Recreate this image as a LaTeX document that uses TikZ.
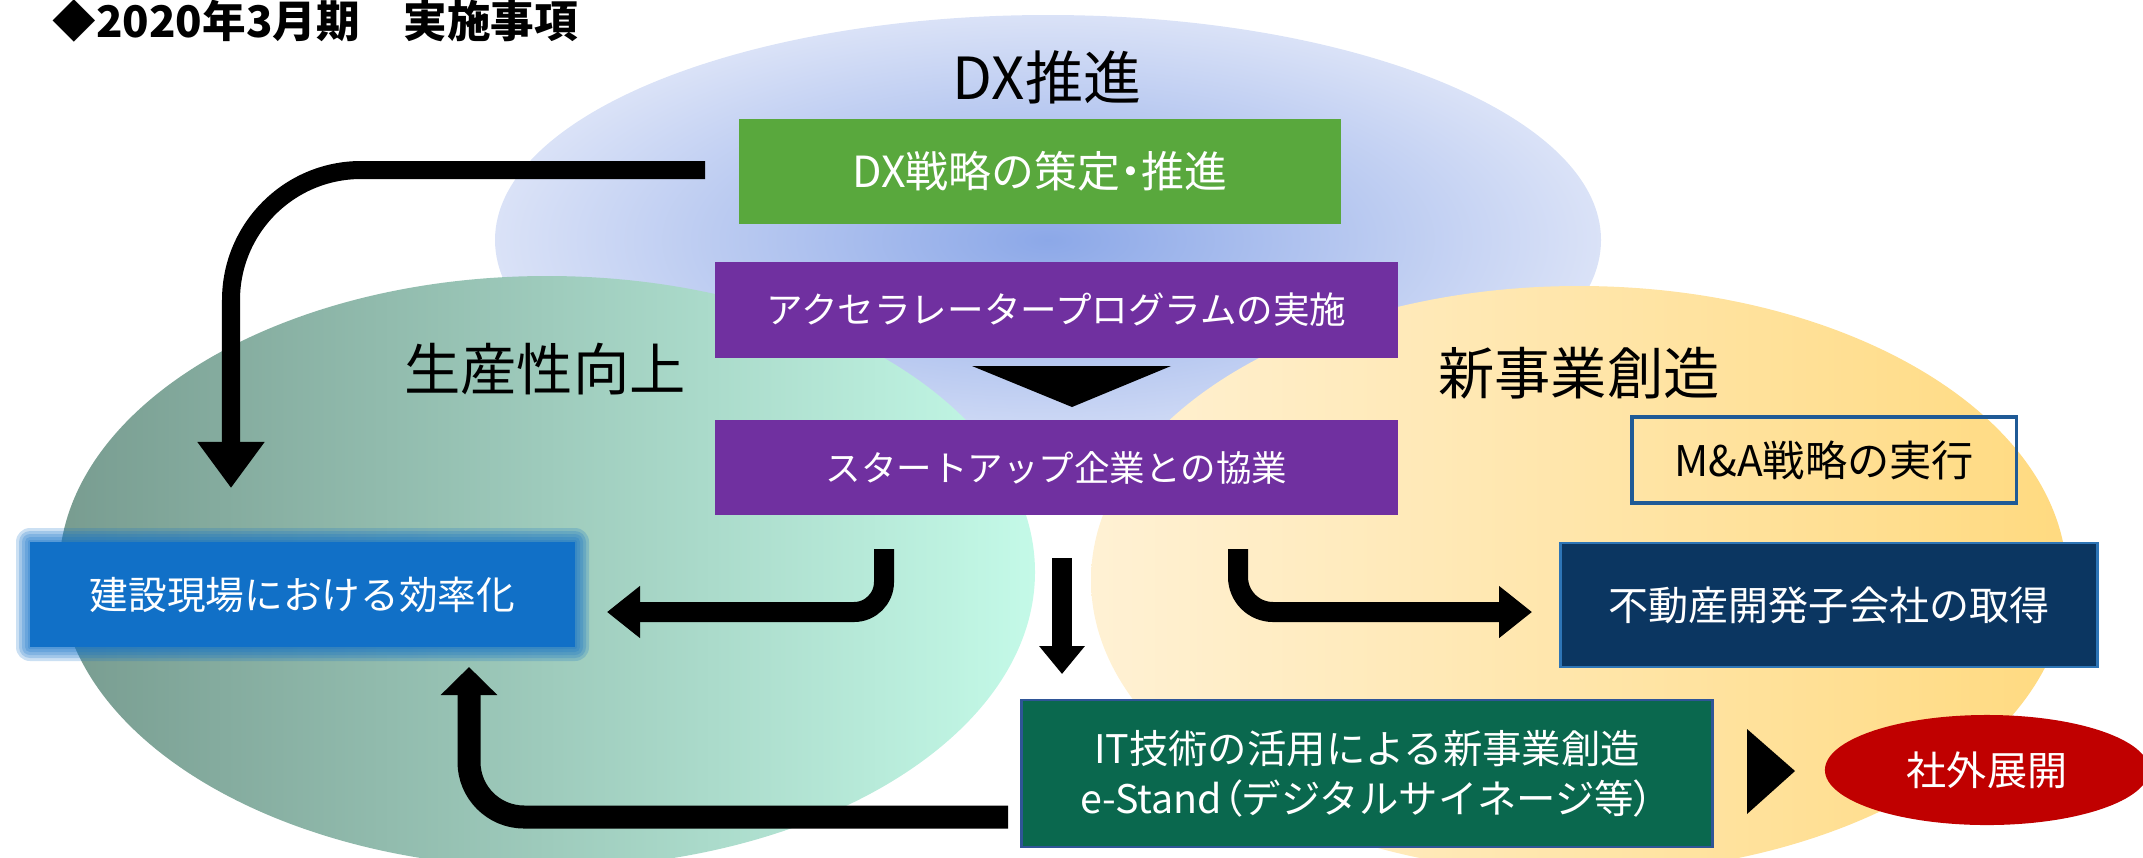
\documentclass[tikz,border=0pt]{standalone}
\usepackage{fontspec}
\setmainfont{Noto Sans CJK JP}
\newfontfamily\jpp[RawFeature=+palt]{Noto Sans CJK JP}
\usetikzlibrary{arrows.meta,calc,shapes.geometric}
\definecolor{blueIn}{RGB}{140,168,232}
\definecolor{blueOut}{RGB}{218,226,247}
\definecolor{grnL}{RGB}{120,156,144}
\definecolor{grnR}{RGB}{196,250,232}
\definecolor{yelL}{RGB}{255,241,212}
\definecolor{yelR}{RGB}{255,218,128}
\definecolor{dxgreen}{RGB}{89,168,61}
\definecolor{purp}{RGB}{112,48,160}
\definecolor{kblue}{RGB}{17,112,199}
\definecolor{navy}{RGB}{11,54,97}
\definecolor{navyedge}{RGB}{46,117,182}
\definecolor{itgreen}{RGB}{10,104,78}
\definecolor{itedge}{RGB}{47,85,151}
\definecolor{maedge}{RGB}{31,90,150}
\definecolor{redc}{RGB}{192,0,0}
\tikzset{
  box/.style={rectangle, inner sep=0pt, text=white, align=center},
  hdr/.style={inner sep=0pt, text=black, font=\fontsize{16}{19}\selectfont},
  arr/.style={draw=black, line width=0.2cm, -{Triangle[width=0.5cm,length=0.33cm]}},
  blurl/.style={fill=kblue, opacity=0.22}
}
\begin{document}
\begin{tikzpicture}[x=0.01cm,y=-0.01cm]
\useasboundingbox (0,0) rectangle (2143,857);
% background ellipses
\shade[inner color=blueIn, outer color=blueOut] (1048,240) ellipse [x radius=553, y radius=225];
\shade[left color=grnL, right color=grnR] (547,572) ellipse [x radius=488, y radius=296];
\shade[left color=yelL, right color=yelR] (1579,580) ellipse [x radius=488, y radius=294];

% title
\node[anchor=base west, inner sep=0pt, font=\bfseries\fontsize{12.4}{14}\selectfont] (title) at (52,37) {◆2020年3月期　実施事項};

% headings
\node[hdr, font=\fontsize{16.5}{19}\selectfont] (dxh) at (1047,77) {DX推進};
\node[hdr] (seisan) at (545,369) {生産性向上};
\node[hdr] (shinki) at (1579,373) {新事業創造};

% boxes
\node[box, fill=dxgreen, minimum width=6.02cm, minimum height=1.05cm, font=\fontsize{12.2}{14}\selectfont] (dx) at (1040,171.5) {DX戦略の策定{\jpp ・}推進};
\node[box, fill=purp, minimum width=6.83cm, minimum height=0.96cm, font=\fontsize{10.4}{12}\selectfont] (acc) at (1056.5,310) {アクセラレータープログラムの実施};
\node[box, fill=purp, minimum width=6.83cm, minimum height=0.95cm, font=\fontsize{10.1}{12}\selectfont] (su) at (1056.5,467.5) {スタートアップ企業との協業};
\fill (972,366) -- (1171,366) -- (1072,407) -- cycle;

% blurred blue box
\foreach \k in {14,11,8,5,2} {
  \fill[blurl, rounded corners=\k*0.01cm] (30-\k,542-\k) rectangle (575+\k,647+\k);
}
\node[box, fill=kblue, minimum width=5.45cm, minimum height=1.05cm, font=\fontsize{11}{13}\selectfont] (ken) at (302.5,594.5) {建設現場における効率化};

\node[box, draw=maedge, line width=0.9pt, text=black, minimum width=3.84cm, minimum height=0.86cm, font=\fontsize{12}{14}\selectfont] (ma) at (1824,460) {M\&A戦略の実行};
\node[box, fill=navy, draw=navyedge, line width=0.8pt, minimum width=5.36cm, minimum height=1.24cm, font=\fontsize{11.4}{13}\selectfont] (fudo) at (1829,605) {不動産開発子会社の取得};
\node[box, fill=itgreen, draw=itedge, line width=0.8pt, minimum width=6.9cm, minimum height=1.47cm, font=\fontsize{11.2}{14.2}\selectfont] (it) at (1367,773.5) {IT技術の活用による新事業創造\\e-Stand{\jpp（}デジタルサイネージ等{\jpp ）}};
\node[ellipse, fill=redc, inner sep=0pt, minimum width=3.24cm, minimum height=1.1cm, text=white, font=\fontsize{11.4}{13}\selectfont] (ext) at (1987,770) {社外展開};
\fill (1747,729) -- (1747,814) -- (1795,771) -- cycle;

% connectors
\coordinate (aS) at (705,170);
\coordinate (aT) at (231,488);
\draw[arr, line width=0.18cm, -{Triangle[width=0.64cm,length=0.46cm]}, rounded corners=1.3cm] (aS) -| (aT);

\coordinate (bS) at (884,549);
\coordinate (bT) at (607,612);
\draw[arr, rounded corners=0.3cm] (bS) |- (bT);

\coordinate (cS) at (1062,558);
\coordinate (cT) at (1062,674);
\draw[arr, line width=0.2cm, -{Triangle[width=0.44cm,length=0.28cm]}] (cS) -- (cT);

\coordinate (dS) at (1238,549);
\coordinate (dT) at (1532,612);
\draw[arr, rounded corners=0.35cm] (dS) |- (dT);

\coordinate (eS) at (1008,817);
\coordinate (eT) at (469,667);
\draw[arr, line width=0.23cm, -{Triangle[width=0.55cm,length=0.28cm]}, rounded corners=0.55cm] (eS) -| (eT);
\end{tikzpicture}
\end{document}
